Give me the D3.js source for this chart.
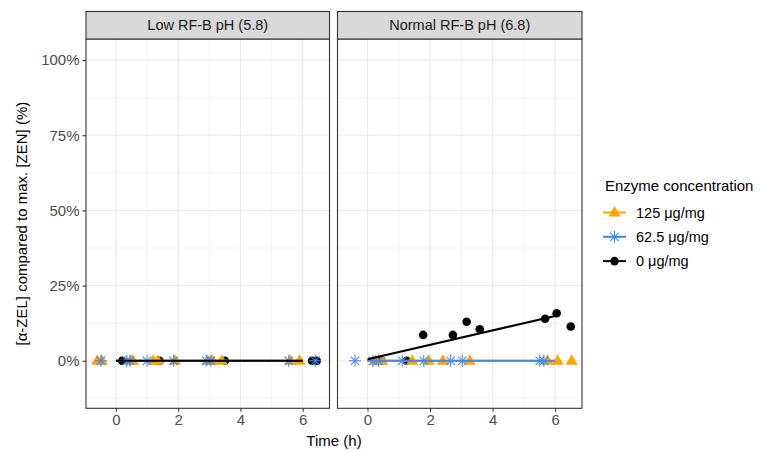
<!DOCTYPE html>
<html>
<head>
<meta charset="utf-8">
<script src="https://cdn.jsdelivr.net/npm/d3@7"></script>
<style>
  body { margin: 0; background: #fff; }
  svg text { font-family: "Liberation Sans", Arial, sans-serif; }
</style>
</head>
<body>
<svg id="chart" width="761" height="450"></svg>
<script>
// ── Data ──────────────────────────────────────────────────────────────────────

const panels = ['Low RF-B pH (5.8)', 'Normal RF-B pH (6.8)'];
const seriesNames = ['125 μg/mg', '62.5 μg/mg', '0 μg/mg'];

// points per panel: [time (h), % of max ZEN]
const lowPts125 = [[-0.6, 0], [-0.45, 0], [0.5, 0], [0.55, 0], [1.2, 0], [1.35, 0], [1.9, 0],
                   [2.95, 0], [3.1, 0], [3.4, 0], [5.6, 0], [5.9, 0]];
const lowPts62  = [[-0.48, 0], [0.35, 0], [0.45, 0], [1.0, 0], [1.85, 0], [2.9, 0], [3.05, 0],
                   [5.55, 0], [6.4, 0]];
const lowPts0   = [[0.2, 0], [1.4, 0], [3.5, 0], [6.3, 0], [6.45, 0]];

const normPts125 = [[0.26, 0], [0.47, 0], [1.43, 0], [1.96, 0], [2.41, 0], [3.27, 0],
                    [5.76, 0], [6.08, 0], [6.53, 0]];
const normPts62  = [[-0.4, 0], [0.17, 0], [0.35, 0], [1.11, 0], [1.8, 0], [2.66, 0],
                    [3.03, 0], [5.51, 0], [5.64, 0]];
const normPts0   = [[0.45, 0], [1.25, 0], [1.78, 8.6], [2.73, 8.6], [3.17, 13], [3.59, 10.5],
                    [5.68, 14], [6.05, 15.8], [6.5, 11.4]];

// fitted lines: [[t0, y0], [t1, y1]]
const lowFit125 = [[0, 0], [6, 0]];
const lowFit62  = [[0, 0], [6, 0]];
const lowFit0   = [[0, 0], [6, 0]];
const normFit125 = [[0, 0], [6, 0]];
const normFit62  = [[0, 0], [6, 0]];
const normFit0   = [[0, 0.5], [6, 14.9]];

const xTicks = [0, 2, 4, 6];
const xMinor = [1, 3, 5];
const yTicks = [0, 25, 50, 75, 100];
const yMinor = [-12.5, 12.5, 37.5, 62.5, 87.5];

// ── Layout ────────────────────────────────────────────────────────────────────

const colors = { '125 μg/mg': '#FFA500', '62.5 μg/mg': '#3F86F5', '0 μg/mg': '#000000' };
const panelX = [[86, 329.5], [337.5, 582]];
const stripTop = 11.5, panelTop = 39, panelBottom = 408.3;

const svg = d3.select('#chart');

const y = d3.scaleLinear().domain([-15.8, 107]).range([panelBottom, panelTop]);

const panelData = [
  { pts: [lowPts125, lowPts62, lowPts0], fits: [lowFit125, lowFit62, lowFit0] },
  { pts: [normPts125, normPts62, normPts0], fits: [normFit125, normFit62, normFit0] }
];

// ── Marker drawing ───────────────────────────────────────────────────────────

function drawMarker(g, name, cx, cy) {
  const c = colors[name];
  if (name === '125 μg/mg') {
    g.append('path')
      .attr('d', d3.symbol(d3.symbolTriangle, 64)())
      .attr('transform', `translate(${cx},${cy + 0.5})`)
      .attr('fill', c);
  } else if (name === '62.5 μg/mg') {
    const r = 6;
    const s = g.append('g').attr('transform', `translate(${cx},${cy})`)
      .attr('stroke', c).attr('stroke-width', 1.1);
    [0, 45, 90, 135].forEach(a => {
      const rad = a * Math.PI / 180;
      s.append('line')
        .attr('x1', -r * Math.cos(rad)).attr('y1', -r * Math.sin(rad))
        .attr('x2',  r * Math.cos(rad)).attr('y2',  r * Math.sin(rad));
    });
  } else {
    g.append('circle').attr('cx', cx).attr('cy', cy).attr('r', 4.3).attr('fill', c);
  }
}

// ── Panels ────────────────────────────────────────────────────────────────────

panels.forEach((title, i) => {
  const [x0, x1] = panelX[i];
  const x = d3.scaleLinear().domain([-0.96, 6.86]).range([x0, x1]);
  const g = svg.append('g');

  // grid
  g.selectAll('.ymin').data(yMinor).enter().append('line')
    .attr('x1', x0).attr('x2', x1).attr('y1', d => y(d)).attr('y2', d => y(d))
    .attr('stroke', '#EBEBEB').attr('stroke-width', 0.6);
  g.selectAll('.xmin').data(xMinor).enter().append('line')
    .attr('y1', panelTop).attr('y2', panelBottom).attr('x1', d => x(d)).attr('x2', d => x(d))
    .attr('stroke', '#EBEBEB').attr('stroke-width', 0.6);
  g.selectAll('.ymaj').data(yTicks).enter().append('line')
    .attr('x1', x0).attr('x2', x1).attr('y1', d => y(d)).attr('y2', d => y(d))
    .attr('stroke', '#EBEBEB').attr('stroke-width', 1.2);
  g.selectAll('.xmaj').data(xTicks).enter().append('line')
    .attr('y1', panelTop).attr('y2', panelBottom).attr('x1', d => x(d)).attr('x2', d => x(d))
    .attr('stroke', '#EBEBEB').attr('stroke-width', 1.2);

  // points: black first, then orange triangles, then blue stars on top
  [2, 0, 1].forEach(k => {
    panelData[i].pts[k].forEach(p => drawMarker(g, seriesNames[k], x(p[0]), y(p[1])));
  });

  // fit lines over the points (orange, blue, black order)
  const line = d3.line().x(d => x(d[0])).y(d => y(d[1]));
  panelData[i].fits.forEach((f, k) => {
    g.append('path').attr('d', line(f)).attr('fill', 'none')
      .attr('stroke', colors[seriesNames[k]]).attr('stroke-width', 2);
  });

  // panel border
  g.append('rect').attr('x', x0).attr('y', panelTop).attr('width', x1 - x0)
    .attr('height', panelBottom - panelTop).attr('fill', 'none')
    .attr('stroke', '#333333').attr('stroke-width', 1.1);

  // strip
  g.append('rect').attr('x', x0).attr('y', stripTop).attr('width', x1 - x0)
    .attr('height', panelTop - stripTop).attr('fill', '#D9D9D9')
    .attr('stroke', '#333333').attr('stroke-width', 1.1);
  g.append('text').attr('x', (x0 + x1) / 2).attr('y', (stripTop + panelTop) / 2 + 5)
    .attr('text-anchor', 'middle').attr('font-size', 14.5).attr('fill', '#1A1A1A').text(title);

  // x axis
  const xa = svg.append('g').attr('transform', `translate(0,${panelBottom})`)
    .call(d3.axisBottom(x).tickValues(xTicks).tickSize(3.5).tickPadding(3));
  xa.select('.domain').remove();
  xa.selectAll('line').attr('stroke', '#333333').attr('stroke-width', 1.1);
  xa.selectAll('text').attr('font-size', 15).attr('fill', '#4D4D4D');
});

// y axis
const ya = svg.append('g').attr('transform', `translate(${panelX[0][0]},0)`)
  .call(d3.axisLeft(y).tickValues(yTicks).tickFormat(d => d + '%').tickSize(3.5).tickPadding(3));
ya.select('.domain').remove();
ya.selectAll('line').attr('stroke', '#333333').attr('stroke-width', 1.1);
ya.selectAll('text').attr('font-size', 15).attr('fill', '#4D4D4D');

// axis titles
svg.append('text').attr('x', (panelX[0][0] + panelX[1][1]) / 2).attr('y', 446)
  .attr('text-anchor', 'middle').attr('font-size', 15).text('Time (h)');
svg.append('text')
  .attr('transform', `translate(26.5,${(panelTop + panelBottom) / 2}) rotate(-90)`)
  .attr('text-anchor', 'middle').attr('font-size', 15)
  .text('[α-ZEL] compared to max. [ZEN] (%)');

// ── Legend ───────────────────────────────────────────────────────────────────

const lg = svg.append('g');
lg.append('text').attr('x', 605).attr('y', 191).attr('font-size', 15).text('Enzyme concentration');
seriesNames.forEach((name, k) => {
  const cy = 212.5 + k * 24.3;
  drawMarker(lg, name, 614.5, cy);
  lg.append('line').attr('x1', 603).attr('x2', 626).attr('y1', cy).attr('y2', cy)
    .attr('stroke', colors[name]).attr('stroke-width', 2);
  lg.append('text').attr('x', 636).attr('y', cy + 5).attr('font-size', 14.5).text(name);
});
</script>
</body>
</html>
